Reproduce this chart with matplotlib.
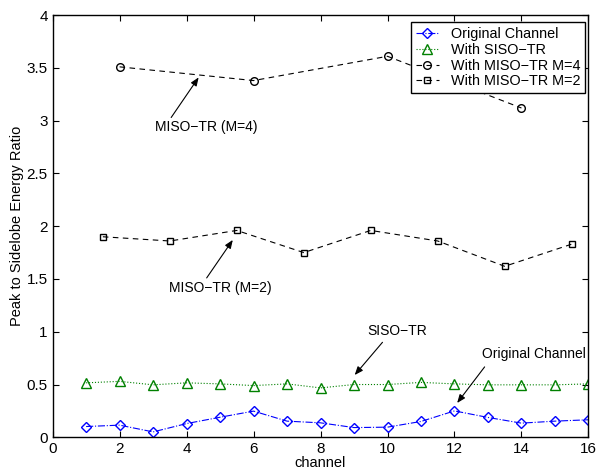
import matplotlib
matplotlib.use("Agg")
import matplotlib.pyplot as plt

plt.rcParams['font.family'] = ['Liberation Sans', 'DejaVu Sans']

channels = list(range(1, 17))
original = [0.102, 0.115, 0.051, 0.13, 0.19, 0.248, 0.153, 0.137,
            0.092, 0.096, 0.15, 0.25, 0.188, 0.134, 0.153, 0.166]
siso = [0.516, 0.53, 0.497, 0.516, 0.506, 0.49, 0.506, 0.468,
        0.5, 0.5, 0.52, 0.506, 0.497, 0.497, 0.497, 0.506]
m4_x = [2, 6, 10, 14]
m4 = [3.51, 3.38, 3.61, 3.12]
m2_x = [1.5, 3.5, 5.5, 7.5, 9.5, 11.5, 13.5, 15.5]
m2 = [1.90, 1.86, 1.96, 1.75, 1.96, 1.86, 1.62, 1.83]

labels = ['Original Channel', 'With SISO\u2212TR', 'With MISO\u2212TR M=4', 'With MISO\u2212TR M=2']
xticks = list(range(0, 17, 2))
yticks = [0, 0.5, 1, 1.5, 2, 2.5, 3, 3.5, 4]
ytick_labels = ['0', '0.5', '1', '1.5', '2', '2.5', '3', '3.5', '4']

fig = plt.figure(figsize=(5.98, 4.73), dpi=100)
ax = fig.add_axes([0.088, 0.0755, 0.896, 0.8925])

ax.plot(channels, original, linestyle='-.', color='blue', marker='D', markersize=5,
        markerfacecolor='none', markeredgecolor='blue', linewidth=0.8, label=labels[0])
ax.plot(channels, siso, linestyle=':', color=(0, 0.5, 0), marker='^', markersize=6.5,
        markerfacecolor='none', markeredgecolor=(0, 0.5, 0), linewidth=0.8, label=labels[1])
ax.plot(m4_x, m4, linestyle='--', color='black', marker='o', markersize=5.5,
        markerfacecolor='none', linewidth=0.8, dashes=(5, 4), label=labels[2])
ax.plot(m2_x, m2, linestyle='--', color='black', marker='s', markersize=4.8,
        markerfacecolor='none', linewidth=0.8, dashes=(5, 4), label=labels[3])

ax.set_xlim(0, 16)
ax.set_ylim(0, 4)
ax.set_xticks(xticks)
ax.set_xticklabels([str(t) for t in xticks])
ax.set_yticks(yticks)
ax.set_yticklabels(ytick_labels)
ax.tick_params(direction='in', top=True, right=True, labelsize=11, length=4, width=0.8)
for s in ax.spines.values():
    s.set_linewidth(1.0)

ax.set_xlabel('channel', fontsize=10.5, labelpad=0)
ax.set_ylabel('Peak to Sidelobe Energy Ratio', fontsize=10.5, labelpad=2)

arrow = dict(arrowstyle='-|>,head_length=0.5,head_width=0.2', color='black', lw=0.8,
             shrinkA=0, shrinkB=0)
ax.annotate('', xy=(4.36, 3.41), xytext=(3.54, 3.03), arrowprops=arrow)
ax.text(4.6, 2.94, 'MISO\u2212TR (M=4)', ha='center', va='center', fontsize=10)
ax.annotate('', xy=(5.38, 1.87), xytext=(4.6, 1.51), arrowprops=arrow)
ax.text(5.0, 1.41, 'MISO\u2212TR (M=2)', ha='center', va='center', fontsize=10)
ax.annotate('', xy=(9.02, 0.59), xytext=(9.85, 0.90), arrowprops=arrow)
ax.text(10.3, 1.01, 'SISO\u2212TR', ha='center', va='center', fontsize=10)
ax.annotate('', xy=(12.08, 0.325), xytext=(12.9, 0.667), arrowprops=arrow)
ax.text(14.38, 0.79, 'Original Channel', ha='center', va='center', fontsize=10)

leg = ax.legend(loc='upper right', bbox_to_anchor=(0.9938, 0.9834), fontsize=10.4,
                frameon=True, fancybox=False, edgecolor='black', framealpha=1,
                borderaxespad=0, handlelength=1.6, borderpad=0.35, labelspacing=0.12,
                handletextpad=0.8)
leg.get_frame().set_linewidth(1.0)

fig.savefig('out.png', dpi=100)
